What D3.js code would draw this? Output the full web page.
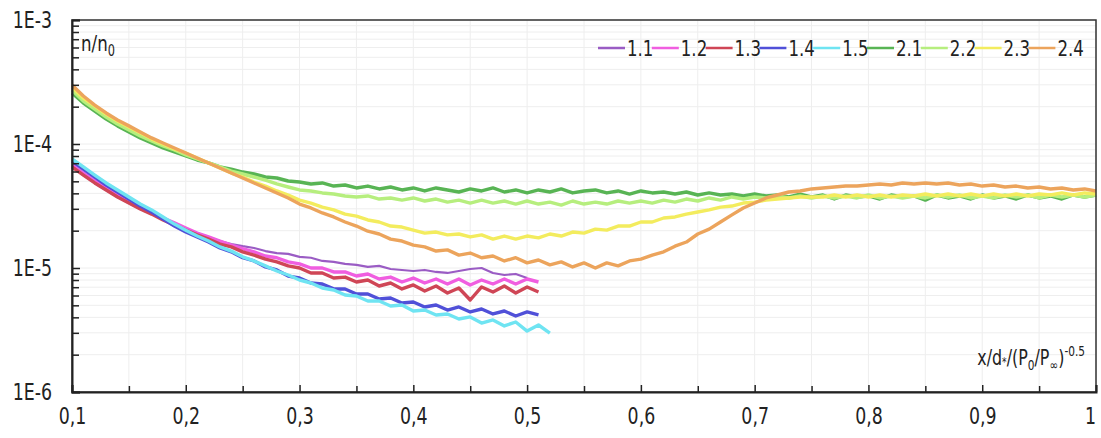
<!DOCTYPE html>
<html>
<head>
<meta charset="utf-8">
<script src="https://cdn.jsdelivr.net/npm/d3@7"></script>
<style>
  body { margin: 0; background: #fff; }
  text { font-family: "DejaVu Sans Condensed", "Liberation Sans Narrow", "Roboto", sans-serif; fill: #222; }
</style>
</head>
<body>
<svg width="1101" height="438"></svg>
<script>
// x positions of the samples
const xs = [0.10,0.11,0.12,0.13,0.14,0.15,0.16,0.17,0.18,0.19,
  0.20,0.21,0.22,0.23,0.24,0.25,0.26,0.27,0.28,0.29,
  0.30,0.31,0.32,0.33,0.34,0.35,0.36,0.37,0.38,0.39,
  0.40,0.41,0.42,0.43,0.44,0.45,0.46,0.47,0.48,0.49,
  0.50,0.51,0.52,0.53,0.54,0.55,0.56,0.57,0.58,0.59,
  0.60,0.61,0.62,0.63,0.64,0.65,0.66,0.67,0.68,0.69,
  0.70,0.71,0.72,0.73,0.74,0.75,0.76,0.77,0.78,0.79,
  0.80,0.81,0.82,0.83,0.84,0.85,0.86,0.87,0.88,0.89,
  0.90,0.91,0.92,0.93,0.94,0.95,0.96,0.97,0.98,0.99,1.00];

// n/n0 values, in units of 1e-5
const UNIT = 1e-5;
const s11 = [6.53,5.62,4.85,4.26,3.74,3.34,2.99,2.72,2.48,2.26,
  2.06,1.91,1.78,1.65,1.56,1.50,1.45,1.37,1.32,1.30,
  1.23,1.21,1.14,1.12,1.08,1.06,1.02,1.04,0.982,0.964,
  0.946,0.964,0.929,0.912,0.946,0.982,1.00,0.912,0.878,0.895,
  0.830];
const s12 = [6.77,5.83,5.03,4.42,3.88,3.47,3.10,2.78,2.53,2.31,
  2.10,1.91,1.78,1.65,1.53,1.43,1.35,1.25,1.21,1.12,
  1.08,1.00,1.00,0.929,0.929,0.862,0.895,0.815,0.845,0.771,
  0.830,0.757,0.815,0.743,0.815,0.730,0.800,0.743,0.815,0.743,
  0.815,0.771];
const s13 = [6.53,5.62,4.85,4.26,3.74,3.34,2.99,2.72,2.44,2.22,
  2.02,1.85,1.71,1.56,1.48,1.35,1.27,1.18,1.12,1.04,
  1.00,0.912,0.912,0.830,0.845,0.771,0.800,0.716,0.757,0.678,
  0.730,0.653,0.716,0.628,0.690,0.552,0.703,0.640,0.716,0.628,
  0.703,0.640];
const s14 = [7.29,6.28,5.42,4.67,4.10,3.60,3.16,2.83,2.48,2.18,
  1.95,1.78,1.62,1.45,1.35,1.21,1.14,1.02,0.964,0.861,
  0.830,0.757,0.743,0.678,0.678,0.617,0.617,0.562,0.573,0.522,
  0.532,0.485,0.503,0.458,0.485,0.442,0.467,0.426,0.450,0.410,
  0.442,0.418];
const s15 = [7.57,6.53,5.62,4.85,4.26,3.74,3.28,2.94,2.58,2.26,
  2.02,1.81,1.65,1.48,1.37,1.23,1.14,1.04,0.946,0.878,
  0.800,0.757,0.690,0.665,0.605,0.594,0.542,0.542,0.494,0.503,
  0.450,0.458,0.418,0.426,0.388,0.403,0.360,0.381,0.341,0.367,
  0.310,0.347,0.299];
const s21 = [25.8,21.4,18.4,15.9,14.0,12.5,11.2,10.2,9.29,8.62,
  8.00,7.43,7.03,6.53,6.28,5.94,5.73,5.42,5.32,5.03,
  4.94,4.76,4.85,4.58,4.67,4.42,4.58,4.34,4.50,4.26,
  4.42,4.18,4.42,4.26,4.10,4.34,4.18,4.42,4.10,4.26,
  4.03,4.26,4.10,4.34,4.03,4.18,4.26,4.03,4.18,3.95,
  4.18,4.03,4.10,3.95,4.10,3.88,4.03,3.88,3.95,3.81,
  3.95,3.81,3.88,3.74,3.95,3.74,3.88,3.60,3.88,3.74,
  3.81,3.60,3.88,3.74,3.81,3.53,3.88,3.67,3.81,3.60,
  3.88,3.67,3.81,3.60,3.88,3.67,3.81,3.60,3.88,3.74,3.88];
const s22 = [27.2,22.2,19.1,16.5,14.5,13.0,11.6,10.6,9.64,8.95,
  8.15,7.57,7.03,6.53,6.05,5.73,5.42,5.12,4.76,4.50,
  4.26,4.18,4.03,3.95,3.81,3.74,3.81,3.60,3.67,3.53,
  3.67,3.47,3.60,3.40,3.53,3.34,3.53,3.34,3.47,3.28,
  3.47,3.28,3.40,3.22,3.47,3.28,3.40,3.28,3.47,3.34,
  3.47,3.34,3.53,3.40,3.60,3.47,3.67,3.53,3.74,3.60,
  3.74,3.67,3.81,3.67,3.81,3.67,3.81,3.67,3.81,3.67,
  3.88,3.67,3.81,3.67,3.81,3.67,3.88,3.74,3.88,3.67,
  3.81,3.67,3.88,3.74,3.88,3.67,3.88,3.74,3.88,3.74,3.88];
const s23 = [28.8,23.5,20.3,17.4,15.3,13.7,12.3,11.0,10.0,9.12,
  8.46,7.71,7.03,6.40,5.83,5.42,4.94,4.58,4.18,3.88,
  3.53,3.34,3.10,2.94,2.72,2.62,2.44,2.35,2.18,2.14,
  2.02,1.91,1.95,1.85,1.88,1.78,1.85,1.71,1.81,1.71,
  1.81,1.75,1.88,1.81,1.95,1.91,2.06,2.02,2.18,2.18,
  2.35,2.35,2.53,2.58,2.72,2.83,2.94,3.10,3.16,3.34,
  3.40,3.53,3.60,3.67,3.74,3.74,3.74,3.88,3.74,3.88,
  3.74,3.88,3.74,3.88,3.81,3.95,3.81,3.95,3.81,3.95,
  3.81,3.95,3.81,3.95,3.81,3.95,3.88,4.03,3.88,4.03,3.95];
const s24 = [29.9,24.4,20.6,17.8,15.6,14.0,12.5,11.2,10.2,9.29,
  8.46,7.71,7.03,6.40,5.83,5.32,4.85,4.42,4.03,3.67,
  3.28,3.05,2.78,2.58,2.35,2.18,1.98,1.88,1.71,1.65,
  1.53,1.48,1.37,1.40,1.27,1.32,1.21,1.25,1.14,1.21,
  1.10,1.16,1.06,1.12,1.02,1.10,1.00,1.10,1.04,1.14,
  1.18,1.27,1.35,1.50,1.62,1.88,2.06,2.35,2.68,3.05,
  3.34,3.67,3.88,4.10,4.18,4.34,4.42,4.50,4.58,4.58,
  4.67,4.76,4.67,4.85,4.76,4.85,4.76,4.85,4.67,4.76,
  4.58,4.67,4.50,4.58,4.42,4.50,4.34,4.42,4.26,4.34,4.18];

const seriesNames = ["1.1","1.2","1.3","1.4","1.5","2.1","2.2","2.3","2.4"];
const seriesValues = [s11, s12, s13, s14, s15, s21, s22, s23, s24];
const seriesColors = ["#9a5cc4","#f05ee0","#cf4656","#5050d8","#6fe4f2","#58b454","#b6ee7e","#f3ec5e","#eca45c"];

const xTicks = [0.1,0.2,0.3,0.4,0.5,0.6,0.7,0.8,0.9,1];
const xTickLabels = ["0,1","0,2","0,3","0,4","0,5","0,6","0,7","0,8","0,9","1"];
const yTicks = [1e-6,1e-5,1e-4,1e-3];
const yTickLabels = ["1E-6","1E-5","1E-4","1E-3"];

const svg = d3.select("svg");
const mLeft = 72, mRight = 1096, mTop = 20, mBottom = 392;
const squeeze = 0.84; // horizontal squeeze to mimic the narrow font

const x = d3.scaleLinear().domain([0.1, 1]).range([mLeft, mRight]);
const y = d3.scaleLog().domain([1e-6, 1e-3]).range([mBottom, mTop]);

// grid
const gridX = x.ticks(18);
const gridY = y.ticks();
svg.append("g").selectAll("line").data(gridX).join("line")
  .attr("x1", d => x(d)).attr("x2", d => x(d))
  .attr("y1", mTop).attr("y2", mBottom)
  .attr("stroke", "#eeeeee").attr("stroke-width", 1);
svg.append("g").selectAll("line").data(gridY).join("line")
  .attr("x1", mLeft).attr("x2", mRight)
  .attr("y1", d => y(d)).attr("y2", d => y(d))
  .attr("stroke", "#eeeeee").attr("stroke-width", 1);

// series
const line = d3.line()
  .x((d, i) => x(xs[i]))
  .y(d => y(d * UNIT));

svg.append("g").selectAll("path").data(seriesValues).join("path")
  .attr("d", d => line(d))
  .attr("fill", "none")
  .attr("stroke", (d, i) => seriesColors[i])
  .attr("stroke-width", (d, i) => i === 0 ? 2.2 : 3.4)
  .attr("stroke-linejoin", "round");

// frame
svg.append("rect")
  .attr("x", mLeft).attr("y", mTop)
  .attr("width", mRight - mLeft).attr("height", mBottom - mTop)
  .attr("fill", "none").attr("stroke", "#333").attr("stroke-width", 1.5);

// x axis
const xMinor = gridX.filter(d => !xTicks.some(t => Math.abs(t - d) < 1e-6));
svg.append("g")
  .attr("transform", `translate(0,${mBottom})`)
  .call(d3.axisBottom(x).tickValues(xMinor).tickSize(-6).tickFormat(""))
  .call(g => g.select(".domain").remove())
  .call(g => g.selectAll("line").attr("stroke", "#222").attr("stroke-width", 1.5));
svg.append("g")
  .attr("transform", `translate(0,${mBottom})`)
  .call(d3.axisBottom(x).tickValues(xTicks).tickSize(-7).tickPadding(16)
    .tickFormat((d, i) => xTickLabels[i]))
  .call(g => g.select(".domain").attr("stroke", "#222").attr("stroke-width", 2))
  .call(g => g.selectAll("line").attr("stroke", "#222").attr("stroke-width", 1.5))
  .call(g => g.selectAll("text").attr("font-size", 23).attr("fill", "#222")
    .attr("font-family", null).attr("transform", `scale(${squeeze},1)`))
  .call(g => g.selectAll(".tick:last-of-type text").attr("dx", -7));

// y axis
const yMinor = gridY.filter(d => !yTicks.some(t => Math.abs(Math.log10(t) - Math.log10(d)) < 1e-6));
svg.append("g")
  .attr("transform", `translate(${mLeft},0)`)
  .call(d3.axisLeft(y).tickValues(yMinor).tickSize(-7).tickFormat(""))
  .call(g => g.select(".domain").remove())
  .call(g => g.selectAll("line").attr("stroke", "#222").attr("stroke-width", 1.5));
svg.append("g")
  .attr("transform", `translate(${mLeft},0)`)
  .call(d3.axisLeft(y).tickValues(yTicks).tickSize(-8).tickPadding(20 / squeeze)
    .tickFormat((d, i) => yTickLabels[i]))
  .call(g => g.select(".domain").attr("stroke", "#222").attr("stroke-width", 2))
  .call(g => g.selectAll("line").attr("stroke", "#222").attr("stroke-width", 1.5))
  .call(g => g.selectAll("text").attr("font-size", 23).attr("fill", "#222")
    .attr("font-family", null).attr("transform", `scale(${squeeze},1)`));

// axis titles
const yt = svg.append("text").attr("transform", `translate(81,51) scale(${squeeze},1)`)
  .attr("font-size", 22);
yt.append("tspan").text("n/n");
yt.append("tspan").attr("font-size", 15).attr("dy", 5).text("0");

const xt = svg.append("text").attr("transform", `translate(1085,365) scale(${squeeze},1)`)
  .attr("font-size", 21).attr("text-anchor", "end");
xt.append("tspan").text("x/d");
xt.append("tspan").attr("font-size", 12).attr("dy", 1).text("*");
xt.append("tspan").attr("dy", -1).text("/(P");
xt.append("tspan").attr("font-size", 14).attr("dy", 5).text("0");
xt.append("tspan").attr("dy", -5).text("/P");
xt.append("tspan").attr("font-size", 14).attr("dy", 5).text("\u221e");
xt.append("tspan").attr("dy", -5).text(")");
xt.append("tspan").attr("font-size", 14).attr("dy", -9).text("-0.5");

// legend
const legend = svg.append("g").attr("transform", "translate(598,48)");
const item = legend.selectAll("g").data(seriesNames).join("g")
  .attr("transform", (d, i) => `translate(${i * 53.8},0)`);
item.append("line").attr("x1", 0).attr("x2", 27).attr("y1", 0).attr("y2", 0)
  .attr("stroke", (d, i) => seriesColors[i]).attr("stroke-width", 2.5);
item.append("text").attr("transform", `translate(29,8) scale(${squeeze},1)`)
  .attr("font-size", 22).text(d => d);
</script>
</body>
</html>
